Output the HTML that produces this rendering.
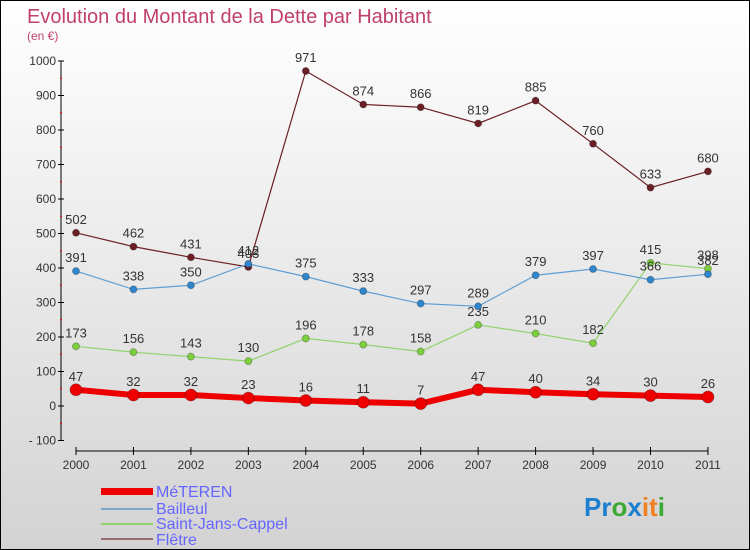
<!DOCTYPE html>
<html><head><meta charset="utf-8"><style>
body{margin:0}
#c{width:750px;height:550px;position:relative;box-sizing:border-box;border:1px solid #000;background:linear-gradient(#fff,#d3d3d3);font-family:"Liberation Sans",sans-serif;overflow:hidden}
</style></head><body>
<div id="c">
<svg id="s" width="748" height="548" xmlns="http://www.w3.org/2000/svg" style="position:absolute;left:0;top:0">
<text x="26" y="22" font-size="20" fill="#c0406a">Evolution du Montant de la Dette par Habitant</text>
<text x="26" y="39" font-size="12" fill="#c0406a">(en €)</text>
<g id="ax"></g><g id="ser"></g>
<g font-size="16" fill="#6666ff">
<rect x="100" y="487" width="52" height="7" fill="#e00"/>
<text x="155" y="496">MéTEREN</text>
<rect x="100" y="507" width="52" height="2" fill="#7aa7cc"/>
<text x="155" y="513">Bailleul</text>
<rect x="100" y="522" width="52" height="2" fill="#8fd36a"/>
<text x="155" y="528">Saint-Jans-Cappel</text>
<rect x="100" y="537" width="52" height="2" fill="#9a6e6e"/>
<text x="155" y="544">Flêtre</text>
</g>
<text x="583" y="515" font-size="26" font-weight="bold"><tspan fill="#1e7fd0">Pr</tspan><tspan fill="#3aaa35">o</tspan><tspan fill="#1e7fd0">x</tspan><tspan fill="#f08020">it</tspan><tspan fill="#3aaa35">i</tspan></text>
</svg>
</div>
<script>
const years=[2000,2001,2002,2003,2004,2005,2006,2007,2008,2009,2010,2011];
const meteren=[47,32,32,23,16,11,7,47,40,34,30,26];
const bailleul=[391,338,350,412,375,333,297,289,379,397,366,382];
const saintJans=[173,156,143,130,196,178,158,235,210,182,415,398];
const fletre=[502,462,431,403,971,874,866,819,885,760,633,680];
const yTicks=[-100,0,100,200,300,400,500,600,700,800,900,1000];
const NS="http://www.w3.org/2000/svg";
const X=i=>75+i*57.45, Y=v=>405-v*0.345;
function el(t,a,p){const e=document.createElementNS(NS,t);for(const k in a)e.setAttribute(k,a[k]);p.appendChild(e);return e;}
const ax=document.getElementById('ax'),ser=document.getElementById('ser');
let yl=el('line',{x1:60,x2:60,y1:Y(1000),y2:Y(-100),stroke:'#000'},ax);


yTicks.forEach(v=>{
 el('line',{x1:57,x2:63,y1:Y(v),y2:Y(v),stroke:'#000'},ax);
 if(v<1000) el('line',{x1:59,x2:61,y1:Y(v+50),y2:Y(v+50),stroke:'#e00'},ax);
 const t=el('text',{x:55,y:Y(v)+4,'text-anchor':'end','font-size':12,fill:'#333'},ax);
 t.textContent=v<0?'- '+(-v):v;
 
 
});
let xl=el('line',{x1:X(0),x2:X(11),y1:450,y2:450,stroke:'#000'},ax);


years.forEach((yr,i)=>{
 el('line',{x1:X(i),x2:X(i),y1:446,y2:454,stroke:'#000'},ax);
 const t=el('text',{x:X(i),y:468,'text-anchor':'middle','font-size':12,fill:'#333'},ax);
 t.textContent=yr;
 
 
});
function series(data,color,dot,w,r,name){
 const g=el('g',{},ser);
 
 
 const pl=el('polyline',{points:data.map((v,i)=>X(i)+','+Y(v)).join(' '),fill:'none',stroke:color,'stroke-width':w},g);
 
 
 data.forEach((v,i)=>{
  const c=el('circle',{cx:X(i),cy:Y(v),r:r,fill:dot,stroke:'rgba(0,0,0,0.25)'},g);
  
  
  const t=el('text',{x:X(i),y:Y(v)-9,'text-anchor':'middle','font-size':13,fill:'#333'},g);
  t.textContent=v;
  
  
 });
}
series(fletre,'#6b1f24','#6b1f24',1.2,3.5,'fletre');
series(saintJans,'#8fd36a','#7ccf3d',1.2,3.5,'saint-jans');
series(bailleul,'#5f9fd4','#2f86cc',1.2,3.5,'bailleul');
series(meteren,'#ee0000','#ee0000',6,6,'meteren');
</script>
</body></html>
